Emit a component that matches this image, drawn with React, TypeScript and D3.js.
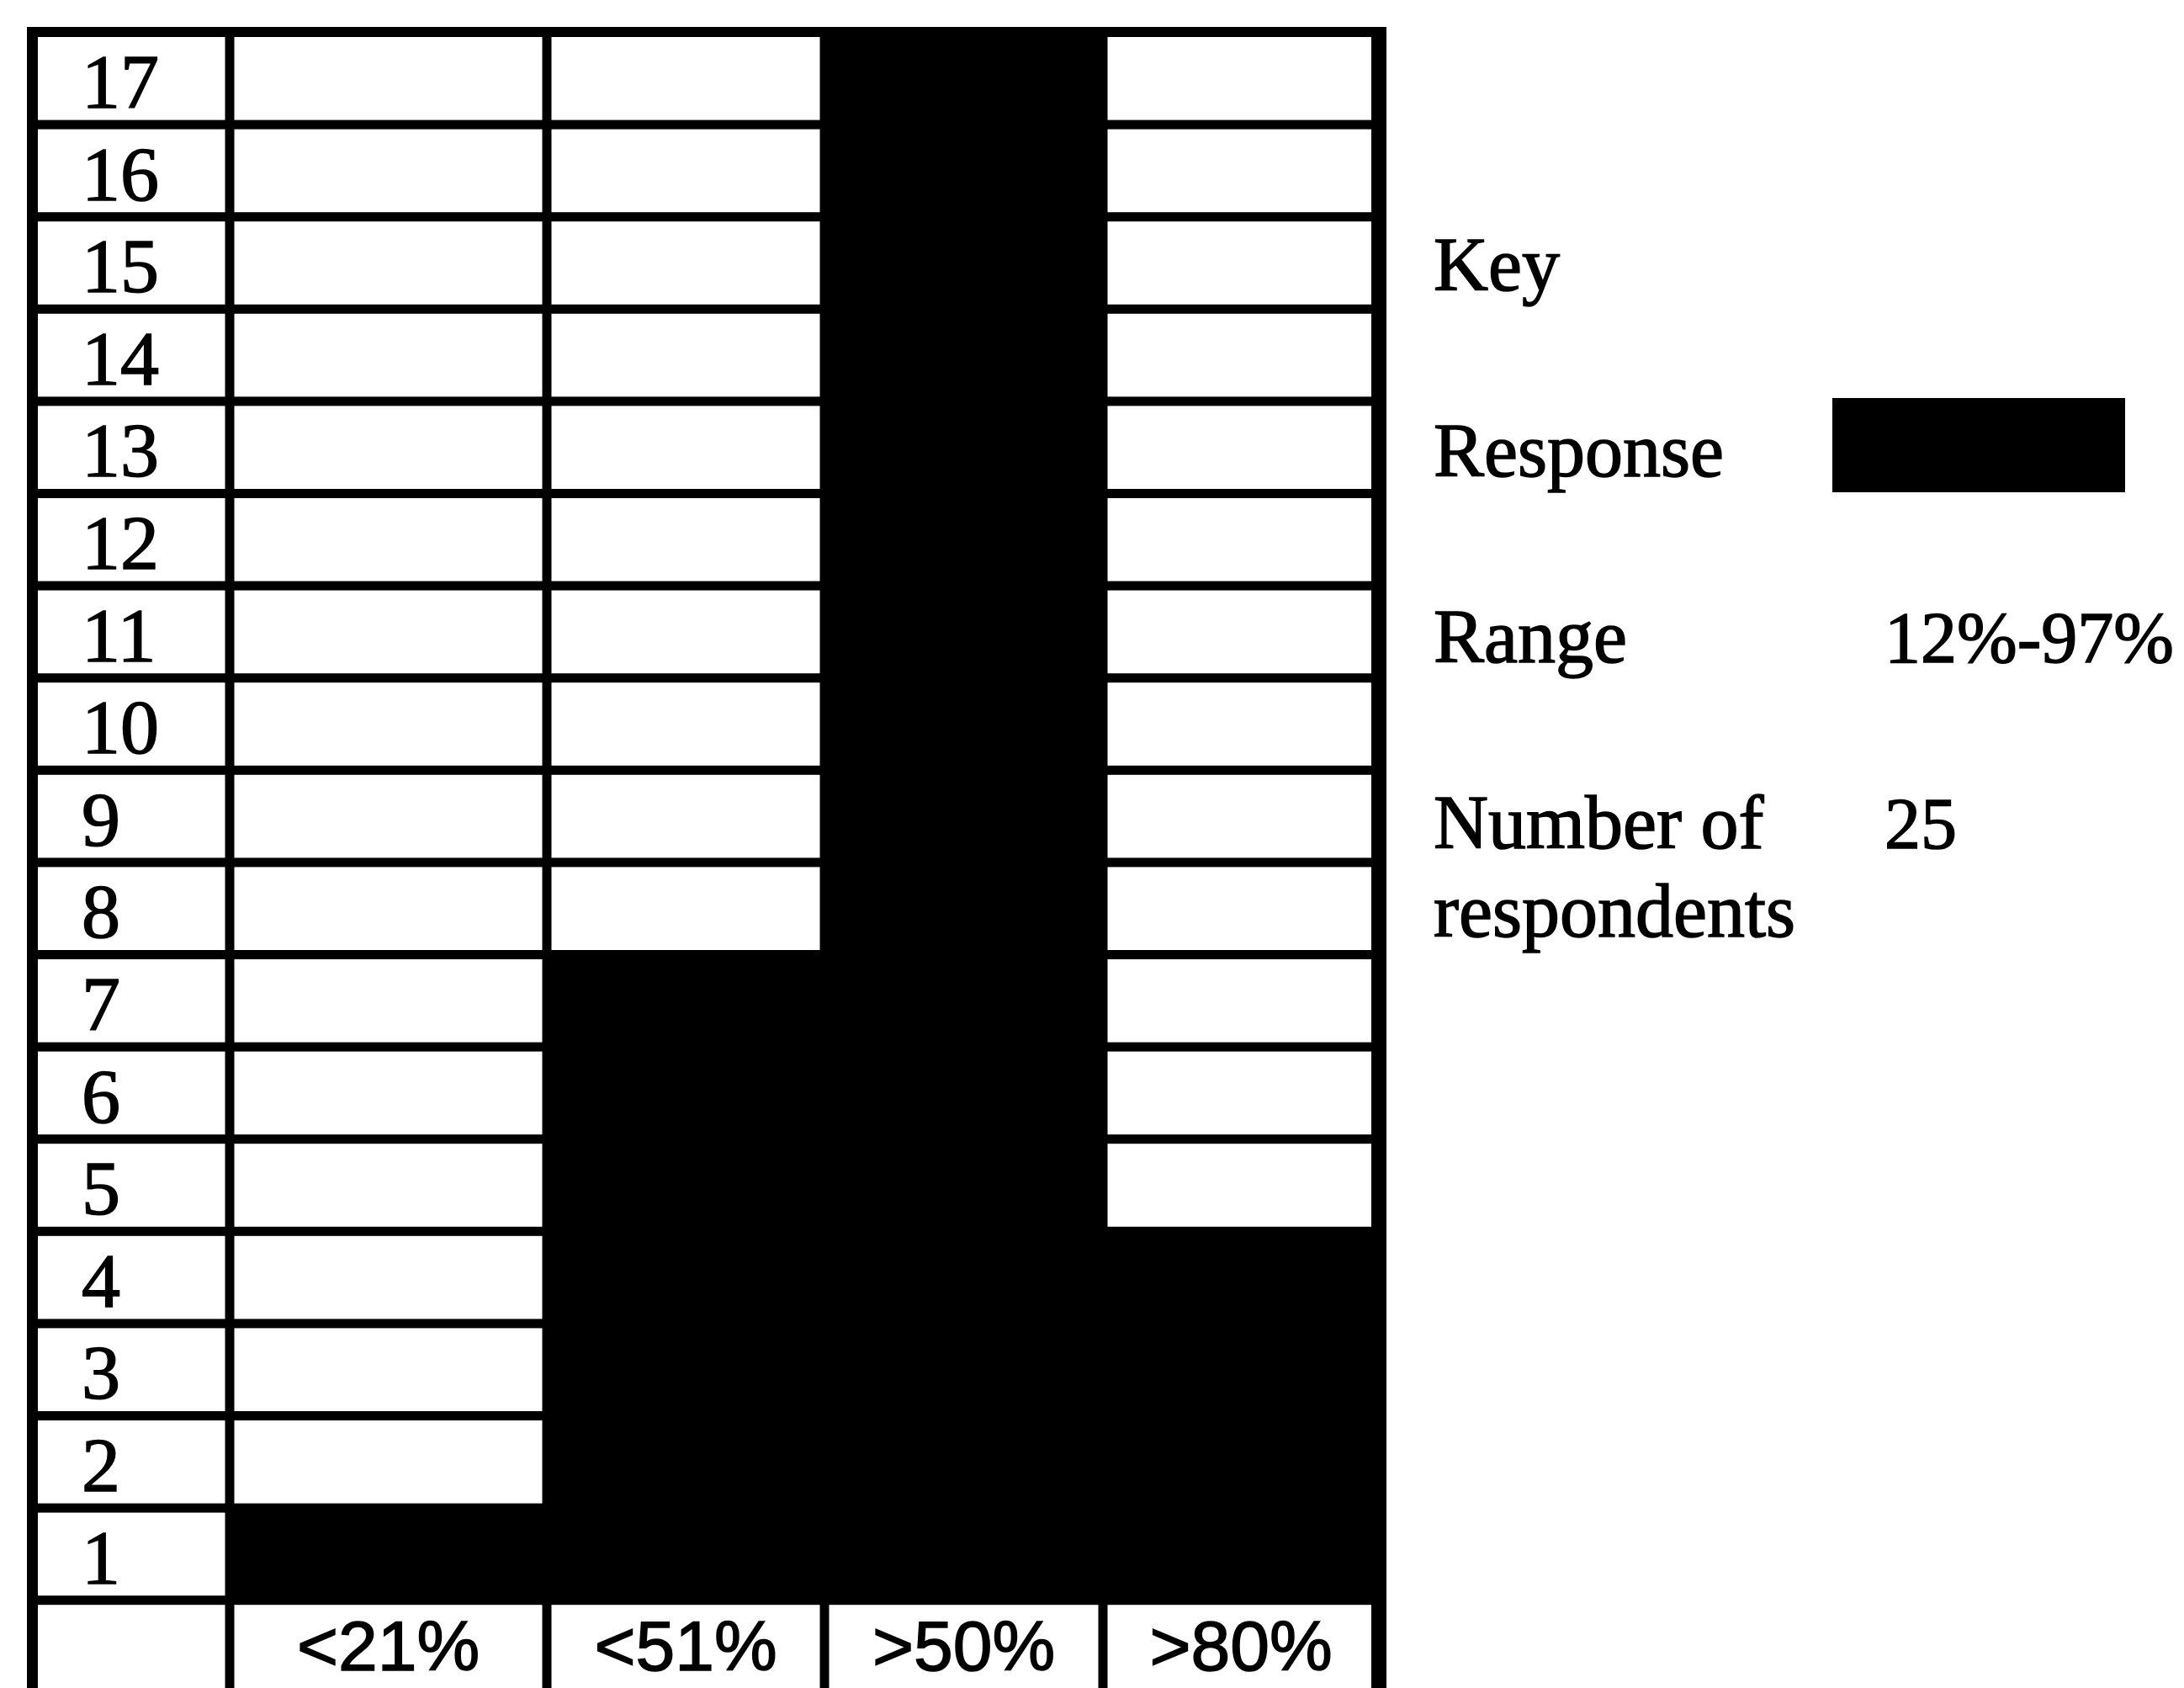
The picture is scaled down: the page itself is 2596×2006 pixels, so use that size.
import React from "react";
import * as d3 from "d3";

// rows are respondent/item numbers, top to bottom
const rowNumbers = [17, 16, 15, 14, 13, 12, 11, 10, 9, 8, 7, 6, 5, 4, 3, 2, 1];
const bandLabels = ["<21%", "<51%", ">50%", ">80%"];
// how many rows (counted from row 1 upward) are shaded in each column
const responseRows = [1, 7, 17, 4];

const keyTitle = "Key";
const legendNames = ["Response", "Range", "Number of"];
const rangeText = "12%-97%";
const respondents = 25;

const W = 2596;
const H = 2006;
const colWidths = [235, 377, 330, 331, 328]; // number column + the 4 bands
const LINE = 11;

const App = () => {
  const rows = [...rowNumbers.map(String), "head"];
  const y = d3
    .scaleBand()
    .domain(rows)
    .range([33, 33 + rows.length * 109.6]);
  const edges = [0, ...d3.cumsum(colWidths)];
  const x = d3.scaleLinear().domain([0, d3.sum(colWidths)]).range([38, 1639]);
  const colLeft = (i) => x(edges[i]);
  const colRight = (i) => x(edges[i + 1]);
  const last = colWidths.length - 1;

  const cells = [];
  rows.forEach((r) => {
    colWidths.forEach((_, ci) => {
      const shaded = r !== "head" && ci > 0 && +r <= responseRows[ci - 1];
      if (shaded) return;
      const x0 = colLeft(ci) + (ci === 0 ? 7 : LINE / 2);
      const x1 = colRight(ci) - (ci === last ? 9 : LINE / 2);
      const y0 = y(r) + LINE;
      const y1 = r === "head" ? H + 20 : y(r) + y.bandwidth();
      cells.push({ key: `${r}-${ci}`, x: x0, y: y0, w: x1 - x0, h: y1 - y0 });
    });
  });

  const legendY = d3
    .scalePoint()
    .domain([keyTitle, ...legendNames])
    .range([345, 1008]);
  const legendX = 1704;
  const valueX = 2240;
  const serif = "'Liberation Serif', 'Times New Roman', serif";

  return (
    <svg
      width={W}
      height={H}
      style={{ position: "absolute", left: 0, top: 0, display: "block", background: "#fff" }}
    >
      {/* table body: black ground, white cells punched out */}
      <rect x={32} y={32} width={1648 - 32} height={H - 32} fill="#000" />
      {cells.map((c) => (
        <rect key={c.key} x={c.x} y={c.y} width={c.w} height={c.h} fill="#fff" />
      ))}

      {rowNumbers.map((n) => (
        <text
          key={n}
          x={97}
          y={y(String(n)) + 95}
          fontFamily={serif}
          fontSize={92}
          fill="#000"
          stroke="#000"
          strokeWidth={1.5}
        >
          {n}
        </text>
      ))}

      {bandLabels.map((b, i) => (
        <text
          key={b}
          x={(colLeft(i + 1) + colRight(i + 1)) / 2}
          y={y("head") + 89}
          textAnchor="middle"
          fontFamily="'Liberation Sans', Arial, sans-serif"
          fontSize={84}
          fill="#000"
          stroke="#000"
          strokeWidth={1.5}
        >
          {b}
        </text>
      ))}

      {/* key */}
      <g fontFamily={serif} fontSize={90} fill="#000" stroke="#000" strokeWidth={1.5}>
        <text x={legendX} y={legendY(keyTitle)}>{keyTitle}</text>
        <text x={legendX} y={legendY("Response")}>Response</text>
        <rect x={2178} y={legendY("Response") - 93} width={348} height={112} fill="#000" stroke="none" />
        <text x={legendX} y={legendY("Range")}>Range</text>
        <text x={valueX} y={legendY("Range")} fontSize={86}>{rangeText}</text>
        <text x={legendX} y={legendY("Number of")}>Number of</text>
        <text x={legendX} y={legendY("Number of") + 105}>respondents</text>
        <text x={valueX} y={legendY("Number of")} fontSize={86}>{respondents}</text>
      </g>
    </svg>
  );
};

export default App;
